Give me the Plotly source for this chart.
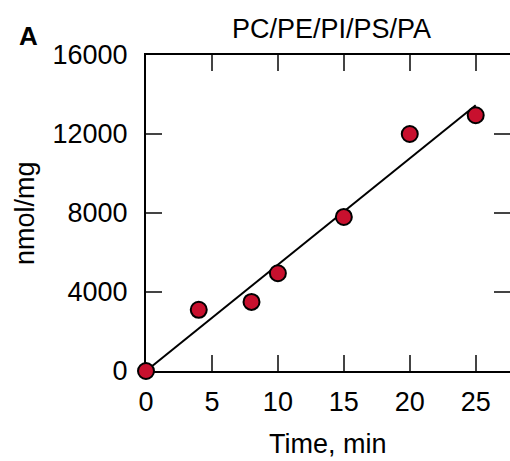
import numpy as np
import plotly.graph_objects as go

time_min = [0, 4, 8, 10, 15, 20, 25]
nmol_mg = [0, 3100, 3500, 4950, 7800, 12000, 12950]
x_ticks = [0, 5, 10, 15, 20, 25]
y_ticks = [0, 4000, 8000, 12000, 16000]
y_tick_text = [str(v) for v in y_ticks]

slope, intercept = np.polyfit(time_min, nmol_mg, 1)
fit_x = [0, 25]
fit_y = [0, slope * 25 + intercept]

FONT = "Arial, Liberation Sans, sans-serif"
W, H = 510, 461
L, R, T = 146, 0, 55
B = H - 371
PW, PH = W - L - R, H - T - B


def px(xp):
    return (xp - L) / PW


def py(yp):
    return (H - B - yp) / PH


fig = go.Figure()
fig.add_trace(go.Scatter(x=fit_x, y=fit_y, mode="lines",
                         line=dict(color="black", width=2), showlegend=False, cliponaxis=False))
fig.add_trace(go.Scatter(x=time_min, y=nmol_mg, mode="markers",
                         marker=dict(size=16, color="#c8102e", line=dict(color="black", width=2)),
                         showlegend=False, cliponaxis=False))
fig.add_trace(go.Scatter(x=[0], y=[0], yaxis="y2", mode="markers",
                         marker=dict(opacity=0), showlegend=False, hoverinfo="skip"))

tf = dict(family=FONT, size=27, color="black")
fig.update_layout(
    width=W, height=H,
    margin=dict(l=L, r=R, t=T, b=B, autoexpand=False),
    plot_bgcolor="white", paper_bgcolor="white",
    font=dict(family=FONT, size=27, color="black"),
    xaxis=dict(range=[0, 27.6], tickvals=x_ticks, ticks="inside", ticklen=16, tickwidth=2,
               showline=True, linewidth=2, linecolor="black", mirror="ticks",
               showgrid=False, zeroline=False, layer="below traces", automargin=False,
               tickfont=tf, ticklabelstandoff=6),
    yaxis=dict(range=[0, 16000], tickvals=y_ticks, ticktext=y_tick_text, ticks="inside",
               ticklen=16, tickwidth=2,
               showline=True, linewidth=2, linecolor="black",
               showgrid=False, zeroline=False, layer="below traces", automargin=False,
               tickfont=tf, ticklabelstandoff=11),
    yaxis2=dict(range=[0, 16000], tickvals=y_ticks, ticks="inside", ticklen=16, tickwidth=2,
                overlaying="y", side="right", showline=False, showticklabels=False,
                showgrid=False, zeroline=False, automargin=False),
    annotations=[
        dict(text="<b>A</b>", x=px(28), y=py(36), xref="paper", yref="paper",
             showarrow=False, font=dict(family=FONT, size=26), xanchor="center", yanchor="middle"),
        dict(text="PC/PE/PI/PS/PA", x=px(331), y=py(29), xref="paper", yref="paper",
             showarrow=False, font=tf, xanchor="center", yanchor="middle"),
        dict(text="Time, min", x=px(328), y=py(444), xref="paper", yref="paper",
             showarrow=False, font=tf, xanchor="center", yanchor="middle"),
        dict(text="nmol/mg", x=px(25), y=py(213), xref="paper", yref="paper", textangle=-90,
             showarrow=False, font=tf, xanchor="center", yanchor="middle"),
    ],
)
fig.write_html(
    "out.html",
    config={"displayModeBar": False},
    post_script=("document.documentElement.style.overflow='hidden';"
                 "document.documentElement.style.margin='0';"
                 "document.body.style.margin='0';document.body.style.overflow='hidden';"),
)
